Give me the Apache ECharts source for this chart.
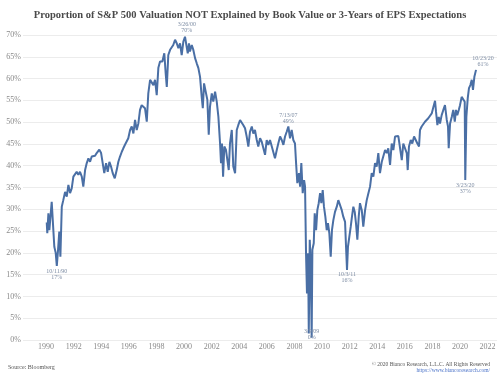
<!DOCTYPE html>
<html>
<head>
<meta charset="utf-8">
<script src="https://cdn.jsdelivr.net/npm/echarts@6/dist/echarts.min.js"></script>
<style>html,body{margin:0;padding:0;background:#fff}#c{width:500px;height:375px}</style>
</head>
<body>
<div id="c"></div>
<script>
// Decimal years and proportion values (%)
const years = [
1990.05,1990.09,1990.17,1990.24,1990.41,1990.53,1990.60,1990.70,1990.78,1990.87,1990.96,1991.04,1991.14,1991.25,1991.38,1991.50,1991.62,1991.74,1991.86,1991.98,
1992.10,1992.22,1992.34,1992.46,1992.59,1992.70,1992.83,1992.95,1993.07,1993.19,1993.31,1993.43,1993.55,1993.67,1993.86,1993.99,1994.11,1994.22,1994.35,1994.47,
1994.59,1994.71,1994.83,1994.98,1995.12,1995.24,1995.36,1995.49,1995.60,1995.72,1995.85,1995.96,1996.09,1996.21,1996.33,1996.45,1996.57,1996.69,1996.81,1996.93,
1997.05,1997.17,1997.30,1997.41,1997.54,1997.66,1997.78,1997.90,1998.02,1998.14,1998.26,1998.43,1998.57,1998.67,1998.75,1998.86,1998.99,1999.11,1999.22,1999.35,
1999.47,1999.59,1999.71,1999.83,1999.95,2000.07,2000.20,2000.27,2000.36,2000.43,2000.56,2000.67,2000.80,2000.92,2001.04,2001.16,2001.28,2001.36,2001.45,2001.57,
2001.69,2001.79,2001.88,2002.01,2002.12,2002.25,2002.37,2002.49,2002.61,2002.68,2002.75,2002.83,2002.92,2003.04,2003.14,2003.24,2003.33,2003.46,2003.57,2003.70,
2003.82,2003.93,2004.06,2004.18,2004.30,2004.42,2004.54,2004.66,2004.78,2004.91,2005.02,2005.14,2005.27,2005.38,2005.51,2005.63,2005.75,2005.87,2005.99,2006.11,
2006.23,2006.36,2006.47,2006.59,2006.72,2006.83,2006.96,2007.08,2007.20,2007.32,2007.44,2007.56,2007.68,2007.80,2007.92,2008.04,2008.12,2008.21,2008.33,2008.41,
2008.50,2008.60,2008.70,2008.77,2008.84,2008.91,2008.99,2009.04,2009.11,2009.18,2009.25,2009.30,2009.40,2009.47,2009.57,2009.66,2009.76,2009.86,2009.95,2010.05,
2010.14,2010.24,2010.34,2010.43,2010.53,2010.63,2010.72,2010.82,2010.94,2011.07,2011.18,2011.30,2011.43,2011.54,2011.67,2011.74,2011.81,2011.88,2011.98,2012.08,
2012.17,2012.27,2012.37,2012.46,2012.56,2012.66,2012.75,2012.88,2012.99,2013.12,2013.24,2013.36,2013.48,2013.60,2013.72,2013.84,2013.96,2014.08,2014.20,2014.33,
2014.44,2014.57,2014.69,2014.80,2014.93,2015.05,2015.17,2015.29,2015.41,2015.53,2015.65,2015.78,2015.89,2016.01,2016.14,2016.21,2016.30,2016.43,2016.54,2016.67,
2016.79,2016.91,2017.03,2017.10,2017.22,2017.34,2017.46,2017.59,2017.70,2017.83,2017.95,2018.07,2018.19,2018.26,2018.36,2018.46,2018.55,2018.67,2018.79,2018.91,
2019.04,2019.13,2019.18,2019.28,2019.40,2019.51,2019.62,2019.71,2019.80,2019.91,2020.00,2020.12,2020.24,2020.34,2020.38,2020.46,2020.56,2020.65,2020.75,2020.85,
2020.94,2021.04,2021.16
];
const values = [
27.0,24.5,29.1,25.2,31.7,31.4,21.4,20.0,17.0,20.7,24.9,19.1,30.6,32.1,34.0,32.9,35.6,33.7,34.8,37.5,
37.1,38.6,37.9,38.6,37.5,35.2,39.0,40.6,41.7,40.9,42.1,41.7,42.3,42.9,43.7,42.9,42.5,38.3,40.6,38.6,
40.9,39.8,38.3,37.1,39.0,40.9,42.1,43.2,44.0,44.8,45.1,46.3,48.2,49.0,47.4,50.5,48.2,49.7,52.8,53.9,
53.5,53.2,50.1,56.6,59.7,59.3,58.5,59.7,56.2,62.5,63.9,63.9,65.8,61.2,58.1,65.4,66.6,67.0,67.7,68.9,
68.1,67.0,68.1,65.4,68.5,69.6,70.0,65.8,68.1,66.2,67.7,66.6,64.7,63.5,62.4,60.4,55.8,53.2,58.9,57.0,
55.1,47.1,53.5,56.6,54.7,57.0,54.7,51.2,45.1,40.6,45.1,37.5,44.4,43.6,41.3,39.0,45.1,48.2,39.8,38.3,
48.2,49.3,50.5,50.9,49.3,48.6,46.7,44.4,47.8,49.0,47.4,48.2,45.9,44.4,46.3,45.5,45.9,42.5,45.9,44.8,
45.9,44.4,44.8,41.7,43.6,45.1,46.7,45.9,44.8,46.7,47.8,49.0,46.3,48.2,45.9,45.1,40.6,36.0,38.3,35.2,
40.6,33.7,36.7,35.2,19.9,10.7,19.9,1.5,23.0,17.6,0.5,20.7,22.2,29.1,25.2,29.8,31.4,33.7,31.4,34.4,
30.6,28.3,25.2,26.8,24.5,19.1,25.2,27.5,29.4,30.6,32.1,31.0,29.8,28.3,27.1,21.4,16.1,21.4,23.7,26.0,
28.3,30.6,29.4,26.8,23.0,28.3,31.4,29.8,26.0,29.8,32.1,33.7,35.2,38.3,37.5,40.6,39.8,42.9,38.3,40.9,
40.6,43.6,42.9,44.0,40.2,45.1,43.6,46.7,46.8,46.8,46.7,41.3,45.1,45.5,42.9,39.0,44.4,45.9,45.1,46.7,
47.1,45.1,44.4,48.2,49.0,49.3,50.1,49.7,50.9,50.5,52.0,53.5,54.9,52.4,49.3,51.2,49.7,51.6,52.8,53.9,
50.5,49.0,44.0,49.7,51.2,52.8,50.1,52.8,51.6,52.8,53.9,55.8,56.0,54.7,36.7,51.2,55.5,57.8,58.5,59.7,
57.4,60.4,62.0
];
// Annotations
const annText = ['10/11/90','3/26/00','7/13/07','3/9/09','10/3/11','3/23/20','10/23/20'];
const annPct  = ['17%','70%','49%','0%','16%','37%','61%'];
const annYear = [1990.78,2000.20,2007.56,2009.25,2011.81,2020.38,2021.16];
const annVal  = [17.0,70.0,49.0,0.5,16.1,36.7,62.0];
const annPos  = ['bottom','top','top','inside','bottom','bottom','top'];
const xTicks = [1990,1992,1994,1996,1998,2000,2002,2004,2006,2008,2010,2012,2014,2016,2018,2020,2022];

const chart = echarts.init(document.getElementById('c'), null, {renderer:'canvas'});
const serif = '"Liberation Serif", "DejaVu Serif", serif';
const annData = annText.map((t,i)=>({
  coord:[annYear[i], annVal[i]],
  label:{
    show:true, position: annPos[i], distance: 2,
    offset: i===6 ? [7,0] : (i===3 ? [0,-3] : [0,0]),
    formatter: t + '\n' + annPct[i],
    fontSize: 6, lineHeight: 6, color:'#7d8ca3', fontFamily: serif
  }
}));
chart.setOption({
  animation:false,
  backgroundColor:'#ffffff',
  title:[
    {text:'Proportion of S&P 500 Valuation NOT Explained by Book Value or 3-Years of EPS Expectations',
     left:'center', top:5,
     textStyle:{fontFamily:serif, fontWeight:'bold', fontSize:10.5, color:'#4a4a4a'}},
    {text:'Source: Bloomberg', left:3, top:359,
     textStyle:{fontFamily:serif, fontWeight:'normal', fontSize:6, color:'#555'}},
    {text:'© 2020 Bianco Research, L.L.C. All Rights Reserved', right:5, top:357,
     textStyle:{fontFamily:serif, fontWeight:'normal', fontSize:5.5, color:'#555'}},
    {text:'https://www.biancoresearch.com/', right:5, top:363,
     textStyle:{fontFamily:serif, fontWeight:'normal', fontSize:5.5, color:'#4a72c8'}}
  ],
  grid:{left:23, right:3, top:35, bottom:35, outerBoundsMode:'none'},
  xAxis:{
    type:'value', min:1988.33, max:2022.68,
    axisLine:{show:false}, axisTick:{show:false}, splitLine:{show:false},
    axisLabel:{customValues:xTicks, formatter:v=>String(v), fontFamily:serif, fontSize:8, color:'#8a8a8a', margin:3}
  },
  yAxis:{
    type:'value', min:0, max:70, interval:5,
    axisLine:{show:false}, axisTick:{show:false},
    splitLine:{lineStyle:{color:'#ececec', width:1}},
    axisLabel:{formatter:v=>v+'%', fontFamily:serif, fontSize:8, color:'#8a8a8a', margin:2, verticalAlign:'middle', padding:[0,0,3,0]}
  },
  series:[{
    type:'line', data: years.map((y,i)=>[y, values[i]]),
    symbol:'none', lineStyle:{color:'#4a6fa5', width:2}, itemStyle:{color:'#4a6fa5'},
    markPoint:{symbol:'circle', symbolSize:0.1, data:annData, silent:true}
  }]
});
</script>
</body>
</html>
